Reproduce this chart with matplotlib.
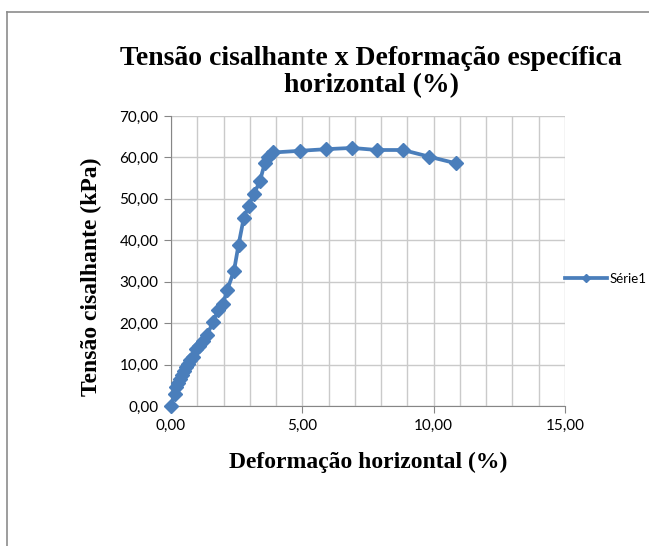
import numpy as np
import matplotlib.pyplot as plt
from matplotlib.lines import Line2D

# deformacao horizontal (%) e tensao cisalhante (kPa)
deform = [0.00, 0.14, 0.20, 0.27, 0.33, 0.40, 0.48, 0.56, 0.64, 0.74, 0.84, 0.96,
          1.08, 1.20, 1.37, 1.60, 1.79, 1.98, 2.14, 2.40, 2.57, 2.77, 2.96, 3.15,
          3.38, 3.57, 3.69, 3.90, 4.90, 5.91, 6.89, 7.84, 8.83, 9.82, 10.84]
tensao = [0.0, 2.9, 4.5, 5.6, 6.6, 7.6, 8.5, 9.4, 10.2, 11.0, 11.9, 13.7,
          14.6, 15.6, 17.1, 20.3, 23.1, 24.7, 28.0, 32.7, 38.9, 45.4, 48.4, 51.1,
          54.2, 58.6, 60.0, 61.2, 61.6, 62.0, 62.3, 61.8, 61.8, 60.2, 58.6]

x_ticks = [0, 5, 10, 15]
y_ticks = [0, 10, 20, 30, 40, 50, 60, 70]
serie = 'Série1'

blue = '#4A7EBB'
grid_c = '#CACACA'
axis_c = '#868686'
serif = ['Liberation Serif', 'DejaVu Serif']
sans = ['Lato', 'DejaVu Sans']

fig = plt.figure(figsize=(6.49, 5.46), dpi=100)
ax = fig.add_axes([0.2635, 0.2564, 0.6071, 0.5311])

ax.plot(deform, tensao, color=blue, lw=2.7, marker='D', markersize=7.5,
        markeredgecolor=blue, zorder=3, clip_on=False)

ax.set_xlim(0, 15)
ax.set_ylim(0, 70)
ax.set_xticks(x_ticks)
ax.set_yticks(y_ticks)
ax.set_xticks(np.arange(0, 16, 1), minor=True)
ax.set_xticklabels([('%.2f' % v).replace('.', ',') for v in x_ticks], family=sans, fontsize=11)
ax.set_yticklabels([('%.2f' % v).replace('.', ',') for v in y_ticks], family=sans, fontsize=11)

ax.grid(True, which='both', axis='x', color=grid_c, lw=1)
ax.grid(True, which='major', axis='y', color=grid_c, lw=1)
ax.set_axisbelow(True)
ax.spines['top'].set_visible(False)
ax.spines['right'].set_visible(False)
ax.spines['left'].set_color(axis_c)
ax.spines['bottom'].set_color(axis_c)
ax.tick_params(which='major', length=5, color=axis_c, pad=4)
ax.tick_params(which='minor', length=0)

ax.set_xlabel('Deformação horizontal (%)', family=serif, fontweight='bold',
              fontsize=17, labelpad=14)
ax.set_ylabel('Tensão cisalhante (kPa)', family=serif, fontweight='bold',
              fontsize=17)
ax.yaxis.set_label_coords(-0.175, 0.445)

fig.text(0.572, 0.868, 'Tensão cisalhante x Deformação específica\nhorizontal (%)',
         family=serif, fontweight='bold', fontsize=20, ha='center', va='center',
         linespacing=1.15)

# legenda
leg_h = [Line2D([0], [0], color=blue, lw=2.7, marker='D', markersize=4.5)]
fig.legend(leg_h, [serie], loc='center left', bbox_to_anchor=(0.852, 0.489),
           frameon=False, prop={'family': sans, 'size': 9.5},
           handlelength=3.2, handletextpad=0.2)

# borda da area do grafico
fig.add_artist(Line2D([0.011, 0.011], [0, 0.978], color='#8C8C8C', lw=1.2))
fig.add_artist(Line2D([0.011, 1], [0.978, 0.978], color='#8C8C8C', lw=1.2))

fig.savefig('out.png', dpi=100)
